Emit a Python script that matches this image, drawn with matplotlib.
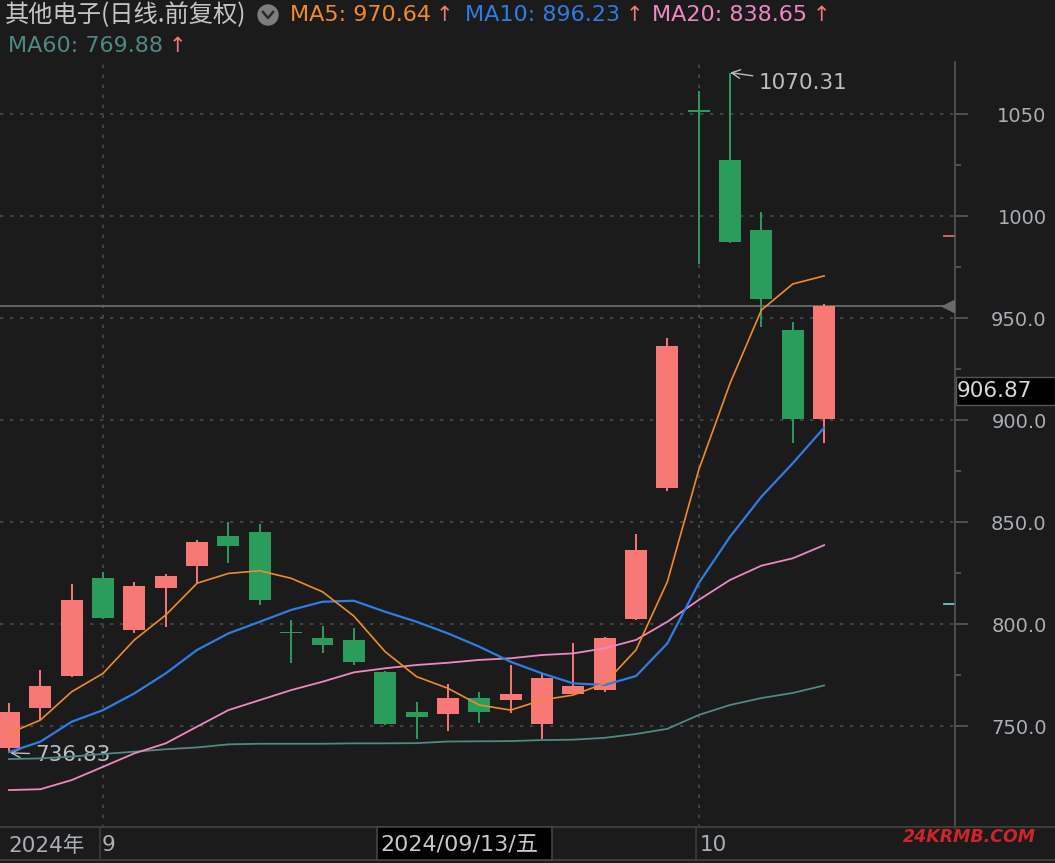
import matplotlib
matplotlib.use("Agg")
import matplotlib.pyplot as plt
from matplotlib.lines import Line2D
from matplotlib.patches import Ellipse, Rectangle
import matplotlib.transforms as mtransforms
import numpy as np

plt.rcParams['font.family'] = ['DejaVu Sans', 'Noto Sans CJK SC']

# ---------------- data ----------------
dates = ["08-28", "08-29", "08-30", "09-02", "09-03", "09-04", "09-05", "09-06",
         "09-09", "09-10", "09-11", "09-12", "09-13", "09-18", "09-19", "09-20",
         "09-23", "09-24", "09-25", "09-26", "09-27", "09-30", "10-08", "10-09",
         "10-10", "10-11", "10-14"]
opens  = [739.2, 759.0, 774.7, 822.5, 797.1, 817.8, 828.6, 843.1, 845.1, 796.1,
          793.0, 792.2, 776.6, 756.9, 756.0, 763.7, 762.7, 751.1, 765.7, 767.6,
          802.3, 866.8, 1052.0, 1027.5, 993.1, 944.1, 900.3]
highs  = [761.3, 777.5, 819.6, 825.5, 820.6, 824.5, 841.2, 850.0, 849.0, 802.0,
          799.0, 798.0, 776.8, 761.8, 770.6, 766.7, 779.9, 776.0, 790.8, 793.5,
          844.1, 940.2, 1061.4, 1070.31, 1002.0, 948.0, 956.9]
lows   = [736.83, 752.9, 774.2, 802.6, 795.7, 798.7, 820.2, 830.0, 809.5, 781.0,
          785.9, 779.9, 750.5, 743.8, 747.7, 751.6, 756.5, 743.8, 765.5, 766.7,
          802.0, 865.3, 976.5, 987.0, 945.7, 888.9, 888.9]
closes = [756.9, 769.6, 811.8, 803.1, 818.6, 823.7, 840.2, 838.4, 811.9, 795.5,
          789.6, 781.5, 751.1, 754.2, 763.7, 756.9, 765.7, 773.4, 769.6, 793.1,
          836.3, 936.3, 1051.0, 987.3, 959.2, 900.3, 955.9]
ma5  = [746.4, 752.9, 766.8, 775.8, 792.2, 804.4, 820.0, 824.8, 826.1, 822.4,
        815.8, 803.9, 786.4, 774.2, 768.5, 760.3, 757.8, 762.7, 765.2, 770.9,
        787.3, 820.7, 875.5, 918.0, 953.9, 966.7, 970.64]
ma10 = [737.2, 742.3, 752.1, 757.8, 766.0, 775.8, 787.3, 795.4, 801.1, 806.9,
        810.9, 811.4, 806.0, 801.1, 795.4, 788.9, 781.5, 775.8, 770.9, 770.1,
        774.5, 790.5, 820.0, 842.8, 862.4, 878.8, 896.23]
ma20 = [718.6, 719.0, 723.5, 730.0, 736.6, 741.5, 749.7, 757.8, 762.7, 767.6,
        771.7, 776.3, 778.3, 779.9, 781.0, 782.4, 783.2, 784.8, 785.6, 788.1,
        792.2, 801.1, 811.8, 821.6, 828.6, 832.2, 838.65]
ma60 = [733.8, 734.1, 735.0, 736.3, 737.4, 738.6, 739.5, 741.0, 741.3, 741.3,
        741.3, 741.5, 741.5, 741.6, 742.4, 742.5, 742.6, 743.1, 743.3, 744.2,
        746.1, 748.6, 755.4, 760.3, 763.7, 766.2, 769.88]
y_ticks = [750, 800, 850, 900, 950, 1000, 1050]
y_tick_labels = ["750.0", "800.0", "850.0", "900.0", "950.0", "1000", "1050"]

# ---------------- style ----------------
BG = '#1b1b1b'
RED = '#f87876'
GREEN = '#2a9c5c'
C_MA5 = '#f18b2a'
C_MA10 = '#2e7de3'
C_MA20 = '#ee88c5'
C_MA60 = '#4f8984'
GRID = '#4a4a4a'
TXT = '#a9afb5'

W, H = 1055, 863
fig = plt.figure(figsize=(W / 100, H / 100), dpi=100, facecolor=BG)
ax = fig.add_axes([0, (H - 828) / H, 955 / W, (828 - 62) / H])
ax.set_facecolor(BG)

x = np.arange(len(dates))
ax.set_xlim(-0.287, 30.175)
ax.set_ylim(700, 1075.5)

# grid
for v in y_ticks:
    ax.axhline(v, color=GRID, lw=1.2, ls=(0, (2, 4)), zorder=0)
for i in (3, 22):
    ax.axvline(i, color=GRID, lw=1.2, ls=(0, (2, 4)), zorder=0)

# candles
for i in range(len(dates)):
    o, h, l, c = opens[i], highs[i], lows[i], closes[i]
    col = RED if c >= o else GREEN
    ax.vlines(x[i], l, h, color=col, lw=1.4, zorder=2)
    bot = min(o, c)
    hgt = max(abs(c - o), 0.8)
    ax.bar(x[i], hgt, bottom=bot, width=0.70, color=col, edgecolor=col, lw=0, zorder=3)

# moving averages
ax.plot(x, ma60, color=C_MA60, lw=1.3, zorder=4)
ax.plot(x, ma20, color=C_MA20, lw=1.3, zorder=4)
ax.plot(x, ma10, color=C_MA10, lw=1.6, zorder=4)
ax.plot(x, ma5, color=C_MA5, lw=1.2, zorder=5)

# current price line
ax.axhline(closes[-1], color='#6a6a6a', lw=1.3, zorder=1)
trans = mtransforms.blended_transform_factory(ax.transAxes, ax.transData)
ax.plot([0.993], [closes[-1]], marker='<', ms=9, color='#6a6a6a', transform=trans,
        clip_on=False, zorder=6)
ax.plot([0.989, 1.0], [990.2, 990.2], color='#e06a6a', lw=1.3, transform=trans, clip_on=False)
ax.plot([0.989, 1.0], [809.8, 809.8], color='#6fc7c7', lw=1.3, transform=trans, clip_on=False)

# annotations of extremes
ax.annotate('1070.31', xy=(23.0, 1070.31), xytext=(23.9, 1065.3),
            color='#b8bec4', fontsize=15.5, va='center', ha='left',
            arrowprops=dict(arrowstyle='->', color='#b8bec4', lw=1.0,
                            shrinkA=2, shrinkB=0))
ax.annotate('736.83', xy=(0.03, 736.83), xytext=(0.83, 735.8),
            color='#b8bec4', fontsize=15.5, va='center', ha='left',
            arrowprops=dict(arrowstyle='->', color='#b8bec4', lw=1.0,
                            shrinkA=2, shrinkB=0))

# y axis on the right
ax.yaxis.tick_right()
ax.set_yticks(y_ticks)
ax.set_yticklabels(y_tick_labels)
ax.set_yticks([775, 825, 875, 925, 975, 1025], minor=True)
ax.tick_params(axis='y', which='major', length=9, width=1.2, color='#5a5a5a',
               labelcolor=TXT, labelsize=14, pad=57)
ax.tick_params(axis='y', which='minor', length=4, width=1.2, color='#5a5a5a')
for lab in ax.get_yticklabels():
    lab.set_horizontalalignment('right')
ax.set_xticks([])
for s in ('top', 'left', 'bottom'):
    ax.spines[s].set_visible(False)
ax.spines['right'].set_color('#555555')
ax.spines['right'].set_linewidth(1.2)

# crosshair value box
fig.add_artist(Rectangle((956 / W, 1 - 405 / H), 99 / W, 28 / H, transform=fig.transFigure,
                         fc='black', ec='#555555', lw=1.0))
fig.text(957 / W, 1 - 391 / H, '906.87', color='#d8d8d8', fontsize=15.5,
         va='center', ha='left')

# ---------------- bottom date bar ----------------
ax2 = fig.add_axes([0, 3 / H, 955 / W, 30 / H])
ax2.set_xlim(ax.get_xlim())
ax2.set_ylim(0, 1)
ax2.axis('off')
fig.add_artist(Line2D([0, 1], [1 - 827 / H, 1 - 827 / H], color='#3c3c3c', lw=1.5,
                      transform=fig.transFigure))
fig.add_artist(Line2D([0, 1], [1 - 860 / H, 1 - 860 / H], color='#3c3c3c', lw=1.5,
                      transform=fig.transFigure))
for xp in (100, 696):
    fig.add_artist(Line2D([xp / W, xp / W], [1 - 860 / H, 1 - 827 / H], color='#3c3c3c',
                          lw=1.2, transform=fig.transFigure))
fig.text(8 / W, 1 - 846 / H, '2024年', color=TXT, fontsize=15.5, va='center', ha='left')
ax2.text(x[3] - 0.05, 0.5, '9', color=TXT, fontsize=15.5, va='center', ha='left')
ax2.text(x[22] + 0.03, 0.5, '10', color=TXT, fontsize=15.5, va='center', ha='left')
fig.add_artist(Rectangle((377 / W, 1 - 860 / H), 175 / W, 33 / H, transform=fig.transFigure,
                         fc='black', ec='#444444', lw=1.2, zorder=2))
fig.text(380 / W, 1 - 845 / H, '2024/09/13/五', color='#c8c8c8', fontsize=16,
         va='center', ha='left', zorder=10)
fig.text(903 / W, 1 - 837 / H, '24KRMB.COM', color='#d0232b', fontsize=12.5,
         fontweight='bold', style='italic', va='center', ha='left')

# ---------------- header ----------------
fig.text(5 / W, 1 - 15 / H, '其他电子(日线.前复权)', color='#c4c4c4', fontsize=17.5,
         va='center', ha='left', family=['Noto Sans CJK SC', 'DejaVu Sans'])
fig.add_artist(Ellipse((268 / W, 1 - 15 / H), 20 / W, 20 / H, transform=fig.transFigure,
                       color='#7d7d7d'))
fig.add_artist(Line2D([263 / W, 268 / W, 273 / W], [1 - 12 / H, 1 - 18 / H, 1 - 12 / H],
                      color='#2a2a2a', lw=1.8, transform=fig.transFigure))

header = [(290, 15, 'MA5: 970.64', C_MA5, 436),
          (465, 15, 'MA10: 896.23', C_MA10, 626),
          (652, 15, 'MA20: 838.65', C_MA20, 813),
          (8, 46, 'MA60: 769.88', C_MA60, 169)]
for hx, hy, s, col, ax_ in header:
    fig.text(hx / W, 1 - hy / H, s, color=col, fontsize=16, va='center', ha='left')
    fig.text(ax_ / W, 1 - hy / H, '↑', color='#f07a78', fontsize=15, va='center', ha='left')

fig.savefig('out.png', dpi=100, facecolor=BG)
